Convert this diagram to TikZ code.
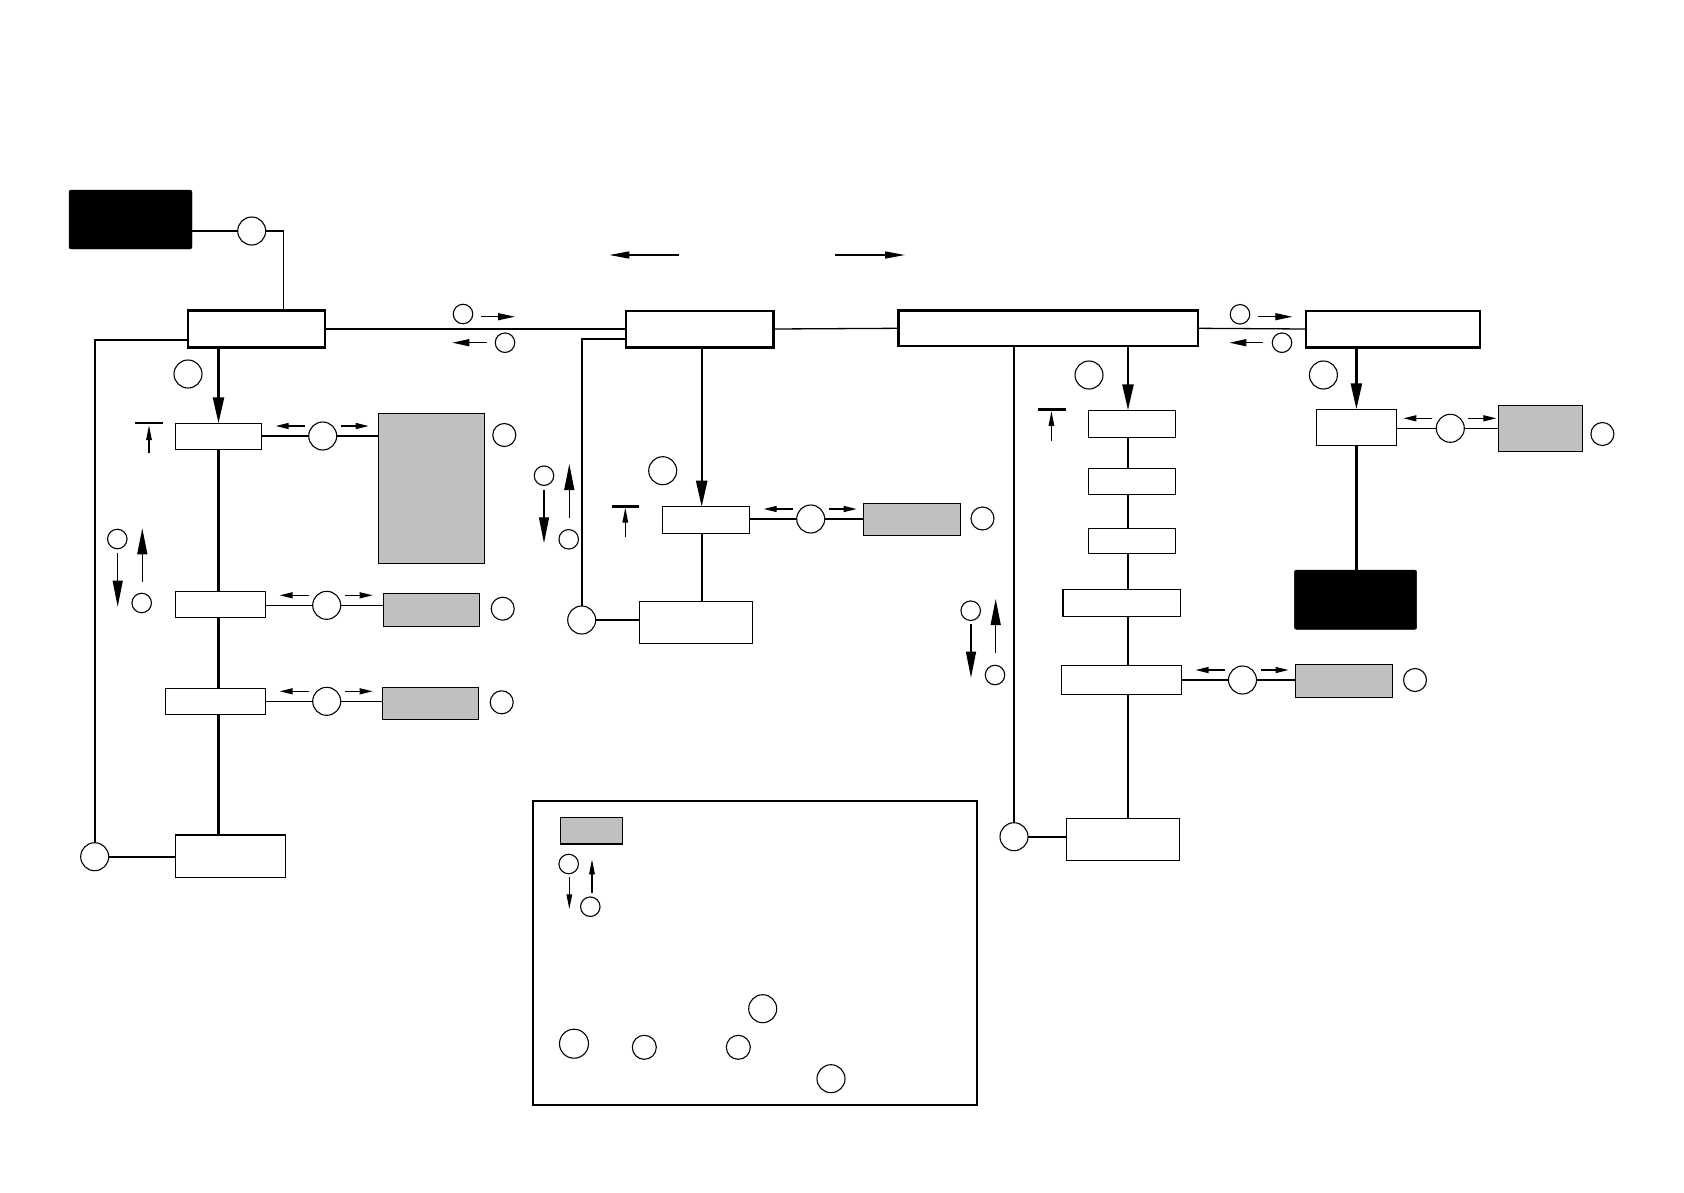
\documentclass[tikz,border=0pt]{standalone}
\usetikzlibrary{arrows.meta}
\definecolor{boxgray}{RGB}{192,192,192}
\tikzset{
  tline/.style={line width=1.3pt},
  kline/.style={line width=2.4pt},
  sz/.style 2 args={minimum width=#1pt, minimum height=#2pt},
  sbox/.style={draw, line width=1.3pt, fill=white, inner sep=0pt, outer sep=0pt},
  kbox/.style={draw, line width=2.4pt, fill=white, inner sep=0pt, outer sep=0pt},
  gbox/.style={sbox, fill=boxgray},
  blkbox/.style={draw=black, fill=black, rounded corners=2pt, inner sep=0pt, outer sep=0pt},
  bcirc/.style={circle, draw, line width=1.1pt, minimum size=28pt, inner sep=0pt, outer sep=0pt},
  mcirc/.style={bcirc, minimum size=23pt},
  scirc/.style={bcirc, minimum size=19.5pt},
  bigtip/.style={-{Triangle[length=26pt,width=11pt]}},
  mtip/.style={-{Triangle[length=26pt,width=10pt]}},
  toptip/.style={-{Triangle[length=20pt,width=7pt]}},
  midtip/.style={-{Triangle[length=17pt,width=7pt]}},
  stip/.style={-{Triangle[length=13pt,width=6pt]}},
  tbtip/.style={-{Triangle[length=15pt,width=5.5pt]}},
  sidearr/.pic={
    \draw[tline, stip] (-18,-10) -- (-47,-10);
    \draw[tline, stip] (18,-10) -- (46,-10);
  },
}
\begin{document}
\begin{tikzpicture}[x=1pt,y=-1pt]
\useasboundingbox (0,0) rectangle (1684,1192);

% ---------- top-left ----------
\node[blkbox, sz={123}{59}] (TL) at (130.5,219.5) {};
\node[bcirc] (A0) at (251.7,231) {};
\node[kbox, sz={137}{37}] (B1) at (256.5,329) {};
\draw[tline] (A0.west -| TL.east) -- (A0.west);
\draw[tline] (A0.east) -| ([xshift=27pt]B1.north);

\node[bcirc] (n1) at (188,374) {};

% left column
\node[sbox, sz={86}{26}] (S1) at (218.5,436.3) {};
\node[sbox, sz={90}{26}] (S2) at (220.3,604.3) {};
\node[sbox, sz={100}{25.6}] (S3) at (215.3,701.5) {};
\node[sbox, sz={110.4}{42.3}] (S4) at (230.5,856.2) {};
\draw[kline, bigtip] (B1.south -| S1.north) -- (S1.north);
\draw[kline] (S1.south) -- (S1.south |- S2.north);
\draw[kline] (S1.south |- S2.south) -- (S1.south |- S3.north);
\draw[kline] (S1.south |- S3.south) -- (S1.south |- S4.north);

\node[bcirc] (K1) at (322.7,436) {};
\node[gbox, sz={106}{150}] (G1) at (431.3,488.3) {};
\node[mcirc] (k1) at (504.3,435) {};
\draw[tline] (K1.west -| S1.east) -- (K1.west);
\draw[tline] (K1.east) -- (K1.east -| G1.west);
\pic at (K1) {sidearr};

\node[bcirc] (K2) at (326.7,605.3) {};
\node[gbox, sz={96}{33}] (G2) at (431.3,609.8) {};
\node[mcirc] (k2) at (502.7,608.7) {};
\draw[tline] (K2.west -| S2.east) -- (K2.west);
\draw[tline] (K2.east) -- (K2.east -| G2.west);
\pic at (K2) {sidearr};

\node[bcirc] (K3) at (326.7,701.3) {};
\node[gbox, sz={96}{32}] (G3) at (430.3,703.3) {};
\node[mcirc] (k3) at (501.7,702.3) {};
\draw[tline] (K3.west -| S3.east) -- (K3.west);
\draw[tline] (K3.east) -- (K3.east -| G3.west);
\pic at (K3) {sidearr};

\node[bcirc] (L1) at (94.7,856.7) {};
\draw[kline] ([yshift=-10.7pt]B1.west) -| (L1.north);
\draw[kline] (L1.east) -- (L1.east -| S4.west);

\draw[kline] (135,422.7) -- (163.3,422.7);
\draw[tline, tbtip] (149,453.3) -- (149,425);

\node[scirc] (u1) at (117.3,539) {};
\node[scirc] (u2) at (141.7,603) {};
\draw[tline, mtip] (117.7,553.3) -- (117.7,606.7);
\draw[tline, mtip] (142.3,581.7) -- (142.3,528.3);

% ---------- top row ----------
\node[kbox, sz={147.6}{36.6}] (M1) at (699.5,329) {};
\node[kbox, sz={299.5}{35.5}] (M2) at (1048.3,328.3) {};
\node[kbox, sz={174}{36.6}] (R1) at (1393,329) {};
\draw[tline] (B1.east) -- (M1.west);
\draw[tline] (M1.east) -- (M2.west);
\draw[tline] (M2.east) -- (R1.west);

\node[scirc] (ca) at (463,314) {};
\node[scirc] (cb) at (505,342.7) {};
\draw[tline, midtip] (481,316.7) -- (515,316.7);
\draw[tline, midtip] (486.7,342.7) -- (452.3,342.7);

\node[scirc] (cc) at (1240,314.3) {};
\node[scirc] (cd) at (1282,342.7) {};
\draw[tline, midtip] (1258,316.7) -- (1292.3,316.7);
\draw[tline, midtip] (1263.3,342.7) -- (1229.3,342.7);

\draw[tline, toptip] (678.7,255) -- (609.3,255);
\draw[tline, toptip] (835,255) -- (905,255);

% ---------- middle column ----------
\node[sbox, sz={87.4}{26.6}] (M3) at (706,520) {};
\node[sbox, sz={113}{41.6}] (M4) at (695.8,622.5) {};
\draw[kline, bigtip] ([xshift=2.2pt]M1.south) -- ([xshift=2.2pt]M1.south |- M3.north);
\draw[kline] ([xshift=2.2pt]M1.south |- M3.south) -- ([xshift=2.2pt]M1.south |- M4.north);

\node[bcirc] (KM) at (810.7,519) {};
\node[gbox, sz={97.4}{32}] (GM) at (912,519.3) {};
\node[mcirc] (kM) at (982.5,518.5) {};
\draw[tline] (KM.west -| M3.east) -- (KM.west);
\draw[tline] (KM.east) -- (KM.east -| GM.west);
\pic at (KM) {sidearr};

\node[bcirc] (n2) at (662.7,470.7) {};

\node[bcirc] (L2) at (581.7,620) {};
\draw[kline] ([yshift=-10pt]M1.west) -| (L2.north);
\draw[kline] (L2.east) -- (L2.east -| M4.west);

\draw[kline] (611.7,506.3) -- (639.3,506.3);
\draw[tline, tbtip] (625.3,536.7) -- (625.3,507.5);

\node[scirc] (u3) at (544,475.7) {};
\node[scirc] (u4) at (568.7,539.3) {};
\draw[tline, mtip] (544,490) -- (544,543.3);
\draw[tline, mtip] (569.3,518.3) -- (569.3,464);

% ---------- right-middle column ----------
\node[sbox, sz={87}{27}] (C1) at (1131.9,423.8) {};
\node[sbox, sz={87}{26}] (C2) at (1131.9,481.3) {};
\node[sbox, sz={87}{25}] (C3) at (1131.9,540.8) {};
\node[sbox, sz={117.4}{27}] (C4) at (1121.7,602.8) {};
\node[sbox, sz={120.2}{29}] (C5) at (1121.5,679.8) {};
\node[sbox, sz={113.4}{42}] (C6) at (1123,839.3) {};
\coordinate (cx) at (1128,0);
\draw[kline, bigtip] (M2.south -| cx) -- (C1.north -| cx);
\draw[kline] (C1.south -| cx) -- (C2.north -| cx);
\draw[kline] (C2.south -| cx) -- (C3.north -| cx);
\draw[kline] (C3.south -| cx) -- (C4.north -| cx);
\draw[kline] (C4.south -| cx) -- (C5.north -| cx);
\draw[kline] (C5.south -| cx) -- (C6.north -| cx);

\node[bcirc] (n3) at (1089,375) {};
\draw[kline] (1038.1,409.3) -- (1065.5,409.3);
\draw[tline, tbtip] (1051.4,440.7) -- (1051.4,410.9);

\node[bcirc] (L3) at (1014,836.7) {};
\draw[kline] (M2.south -| L3.north) -- (L3.north);
\draw[kline] (L3.east) -- (L3.east -| C6.west);

\node[scirc] (u5) at (970.7,610.7) {};
\node[scirc] (u6) at (995,675) {};
\draw[tline, mtip] (971,624) -- (971,677.7);
\draw[tline, mtip] (995.7,652.7) -- (995.7,599);

\node[bcirc] (KC) at (1242.5,680) {};
\node[gbox, sz={97}{33}] (GC) at (1344.1,680.8) {};
\node[mcirc] (kC) at (1415,680) {};
\draw[tline] (KC.west -| C5.east) -- (KC.west);
\draw[tline] (KC.east) -- (KC.east -| GC.west);
\pic at (KC) {sidearr};

% ---------- right column ----------
\node[sbox, sz={80}{36}] (R2) at (1356.4,427.3) {};
\node[blkbox, sz={122.3}{59.3}] (BR) at (1355.5,599.7) {};
\draw[kline, bigtip] (R1.south -| R2.north) -- (R2.north);
\draw[kline] (R2.south) -- (R2.south |- BR.north);
\node[bcirc] (n4) at (1323.4,375) {};

\node[bcirc] (KR) at (1450.3,428.3) {};
\node[gbox, sz={84.2}{45.6}] (GR) at (1540.4,428.5) {};
\node[mcirc] (kR) at (1602.4,434) {};
\draw[tline] (KR.west -| R2.east) -- (KR.west);
\draw[tline] (KR.east) -- (KR.east -| GR.west);
\pic at (KR) {sidearr};

% ---------- legend ----------
\node[kbox, sz={444}{304}] (LG) at (754.7,952.7) {};
\node[gbox, sz={62}{26.7}] (LGg) at (591.3,830.7) {};
\node[scirc] (lg1) at (568.7,864) {};
\node[scirc] (lg2) at (590.3,906.7) {};
\draw[tline, tbtip] (569.3,877.3) -- (569.3,909.3);
\draw[tline, tbtip] (592,892.7) -- (592,859.3);
\node[bcirc, minimum size=29pt] (lg3) at (574,1043.7) {};
\node[mcirc, minimum size=24pt] (lg4) at (644.3,1047.3) {};
\node[mcirc, minimum size=24pt] (lg5) at (738.3,1047.3) {};
\node[bcirc] (lg6) at (762.7,1008.7) {};
\node[bcirc] (lg7) at (831,1078.7) {};
\end{tikzpicture}
\end{document}
